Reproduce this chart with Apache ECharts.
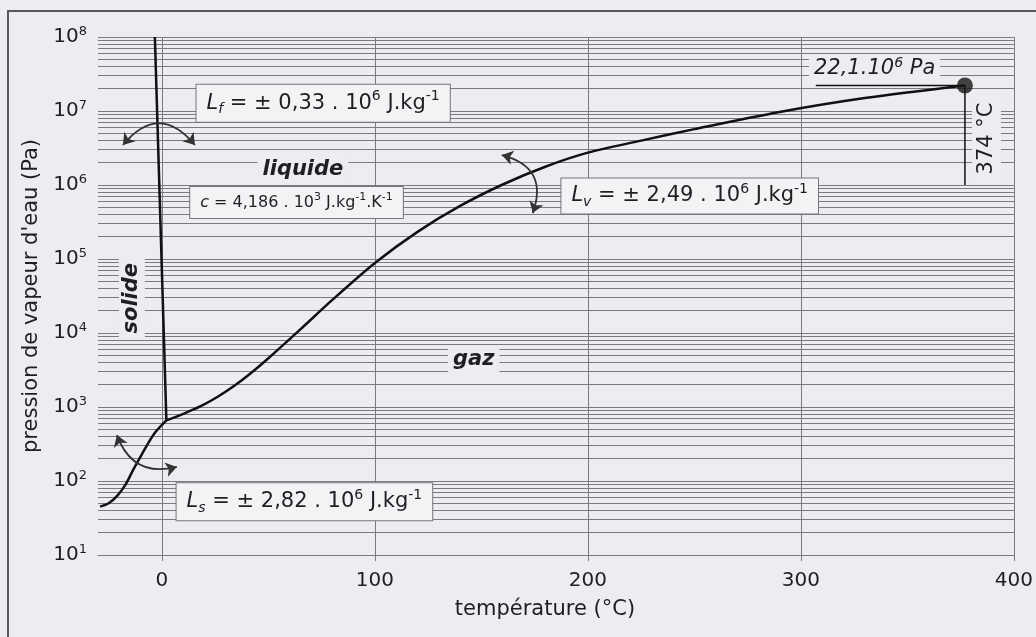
<!DOCTYPE html>
<html>
<head>
<meta charset="utf-8">
<script src="https://cdn.jsdelivr.net/npm/echarts@6/dist/echarts.min.js"></script>
<style>
html,body{margin:0;padding:0;background:#ececf1;}
#c{width:1036px;height:637px;}
</style>
</head>
<body>
<div id="c"></div>
<script>
// ---------- data ----------
const xTickValues = [0, 100, 200, 300, 400];
const yDecadeExponents = [1, 2, 3, 4, 5, 6, 7, 8];
const gridMultipliers = [1, 2, 3, 4, 5, 6, 7, 8, 9];

// solid / gas (sublimation)
const sublimationT = [-29, -25, -21, -17, -13.5, -10, -6, -3, 2.1];
const sublimationP = [45, 50, 63, 90, 141, 214, 340, 460, 660];

// liquid / gas (vaporisation)
const vaporisationT = [2.1, 10, 18, 26, 34, 42, 50, 65, 80, 100, 120, 140, 160, 180, 200, 225, 250, 290, 330, 377];
const vaporisationP = [660, 807, 1016, 1365, 1936, 2904, 4560, 11190, 27990, 88500, 232800, 521200, 1016000, 1766000, 2735000, 3980000, 5690000, 9700000, 14960000, 22100000];

// solid / liquid (fusion)
const fusionT = [2.1, -3.3];
const fusionP = [660, 1e8];

// critical point
const criticalT = 377;
const criticalP = 22.1e6;
const criticalDropP = 1e6;
const criticalUnderlineStartT = 307;

// curved double arrows: [T, P] ends
const arrowFusion = [[-18.3, 3.47e6], [15.5, 3.47e6]];
const arrowVapor = [[159.6, 2.54e6], [174.1, 4.17e5]];
const arrowSublim = [[-21.1, 417], [7.0, 155]];

// annotation anchors [T, P]
const posLf = [75.7, 1.27e7];
const posLiquide = [66.2, 1.6e6];
const posC = [63.2, 5.8e5];
const posLv = [247.8, 7.1e5];
const posLs = [66.9, 52.5];
const posSolide = [-14.1, 2.95e4];
const posGaz = [146.4, 4315];
const posCritP = [334.6, 3.75e7];
const posCritT = [387.1, 4.25e6];

// ---------- style ----------
const FONT = 'DejaVu Sans';
const TXT = '#1f1f22';
const GRID = '#7a7a80';
const BG = '#ececf1';
const BOXBG = '#f3f3f6';
const S = 21;

const zip = (a, b) => a.map((v, i) => [v, b[i]]);

const hGridValues = [];
yDecadeExponents.forEach(e => {
  if (e < 8) gridMultipliers.forEach(m => hGridValues.push(m * Math.pow(10, e)));
});
hGridValues.push(1e8);

const tok = (o) => Object.assign({fontFamily: FONT, color: TXT, textBorderWidth: 0, textBorderColor: 'transparent', opacity: 1}, o);
const richMain = {
  t: tok({fontSize: S, lineHeight: 27}),
  i: tok({fontSize: S, lineHeight: 27, fontStyle: 'italic'}),
  sup: tok({fontSize: 14, lineHeight: 17, verticalAlign: 'top'}),
  sub: tok({fontSize: 14, lineHeight: 14, verticalAlign: 'bottom', fontStyle: 'italic'}),
  ct: tok({fontSize: 16, lineHeight: 21}),
  ci: tok({fontSize: 16, lineHeight: 21, fontStyle: 'italic'}),
  csup: tok({fontSize: 11, lineHeight: 12, verticalAlign: 'top'}),
  bi: tok({fontSize: S, lineHeight: 24, fontStyle: 'italic', fontWeight: 'bold'}),
  it: tok({fontSize: S, lineHeight: 24, fontStyle: 'italic'}),
  itsup: tok({fontSize: 14, lineHeight: 15, verticalAlign: 'top', fontStyle: 'italic'})
};

const boxLabel = (text, pad) => ({
  show: true, position: 'inside', formatter: text, rich: richMain,
  color: TXT, textBorderWidth: 0, opacity: 1,
  backgroundColor: BOXBG, borderColor: '#75757a', borderWidth: 1, padding: pad
});
const plainLabel = (text, rot) => ({
  show: true, position: 'inside', formatter: text, rich: richMain,
  color: TXT, textBorderWidth: 0, opacity: 1,
  backgroundColor: BG, padding: [1, 5], rotate: rot || 0
});

const annotations = [
  {value: posLf, label: boxLabel('{i|L}{sub|f}{t| = ± 0,33 . 10}{sup|6}{t| J.kg}{sup|-1}', [5, 10])},
  {value: posLiquide, label: plainLabel('{bi|liquide}')},
  {value: posC, label: boxLabel('{ci|c}{ct| = 4,186 . 10}{csup|3}{ct| J.kg}{csup|-1}{ct|.K}{csup|-1}', [5, 10])},
  {value: posLv, label: boxLabel('{i|L}{sub|v}{t| = ± 2,49 . 10}{sup|6}{t| J.kg}{sup|-1}', [4, 10])},
  {value: posLs, label: boxLabel('{i|L}{sub|s}{t| = ± 2,82 . 10}{sup|6}{t| J.kg}{sup|-1}', [5, 10])},
  {value: posSolide, label: plainLabel('{bi|solide}', 90)},
  {value: posGaz, label: plainLabel('{bi|gaz}')},
  {value: posCritP, label: plainLabel('{it|22,1.10}{itsup|6}{it| Pa}')},
  {value: posCritT, label: plainLabel('{t|374 °C}', 90)}
];

const curveStyle = {color: '#111', width: 2.5};

const option = {
  backgroundColor: BG,
  animation: false,
  grid: {left: 98, right: 22, top: 37, bottom: 82},
  graphic: [{
    type: 'rect', silent: true, z: -1,
    shape: {x: 8, y: 11, width: 1200, height: 800},
    style: {fill: 'transparent', stroke: '#58585c', lineWidth: 2}
  }],
  xAxis: {
    type: 'value', min: -30, max: 400,
    name: 'température (°C)', nameLocation: 'middle', nameGap: 44,
    nameTextStyle: {fontFamily: FONT, fontSize: 21, color: TXT, padding: [0, 22, 0, 0]},
    axisLine: {show: true, lineStyle: {color: GRID, width: 1}},
    axisTick: {show: true, customValues: xTickValues, length: 6, lineStyle: {color: GRID}},
    axisLabel: {customValues: xTickValues, fontFamily: FONT, fontSize: 20, color: TXT, margin: 16},
    splitLine: {show: false}
  },
  yAxis: {
    type: 'log', logBase: 10, min: 10, max: 1e8,
    name: "pression de vapeur d'eau (Pa)", nameLocation: 'middle', nameGap: 56,
    nameTextStyle: {fontFamily: FONT, fontSize: 21, color: TXT},
    axisLine: {show: false},
    axisTick: {show: true, length: 9, lineStyle: {color: GRID}},
    axisLabel: {
      margin: 11,
      formatter: v => '{b|10}{s|' + Math.round(Math.log10(v)) + '}',
      rich: {
        b: {fontFamily: FONT, fontSize: 20, color: TXT, lineHeight: 24},
        s: {fontFamily: FONT, fontSize: 13, color: TXT, lineHeight: 14, verticalAlign: 'top'}
      }
    },
    splitLine: {show: false},
    minorTick: {show: false},
    minorSplitLine: {show: false}
  },
  series: [
    {
      type: 'line', data: [], silent: true, z: 1,
      markLine: {
        silent: true, z: 1, symbol: ['none', 'none'], animation: false,
        label: {show: false},
        lineStyle: {color: GRID, width: 1, type: 'solid'},
        emphasis: {disabled: true},
        data: hGridValues.map(v => ({yAxis: v})).concat(xTickValues.map(v => ({xAxis: v})))
      }
    },
    {type: 'line', data: zip(sublimationT, sublimationP), smooth: 0.3, showSymbol: false, silent: true, z: 5, lineStyle: curveStyle},
    {type: 'line', data: zip(vaporisationT, vaporisationP), smooth: 0.3, showSymbol: false, silent: true, z: 5, lineStyle: curveStyle},
    {type: 'line', data: zip(fusionT, fusionP), showSymbol: false, silent: true, z: 5, lineStyle: curveStyle},
    {type: 'line', data: [[criticalT, criticalP], [criticalT, criticalDropP]], showSymbol: false, silent: true, z: 5, lineStyle: {color: '#111', width: 1.5}},
    {type: 'line', data: [[criticalUnderlineStartT, criticalP], [criticalT, criticalP]], showSymbol: false, silent: true, z: 5, lineStyle: {color: '#111', width: 1.5}},
    {type: 'scatter', data: [[criticalT, criticalP]], symbolSize: 16, silent: true, z: 7, itemStyle: {color: '#151515'}},
    {
      type: 'lines', coordinateSystem: 'cartesian2d', silent: true, z: 6,
      symbol: ['arrow', 'arrow'], symbolSize: 11,
      lineStyle: {color: '#333', width: 1.8, opacity: 1},
      data: [
        {coords: arrowFusion, lineStyle: {curveness: 0.6}},
        {coords: arrowVapor, lineStyle: {curveness: 0.55}},
        {coords: arrowSublim, lineStyle: {curveness: -0.45}}
      ]
    },
    {type: 'scatter', data: annotations, symbolSize: 0, silent: true, z: 8, itemStyle: {color: '#000', opacity: 1}}
  ]
};

const chart = echarts.init(document.getElementById('c'));
chart.setOption(option);
</script>
</body>
</html>
